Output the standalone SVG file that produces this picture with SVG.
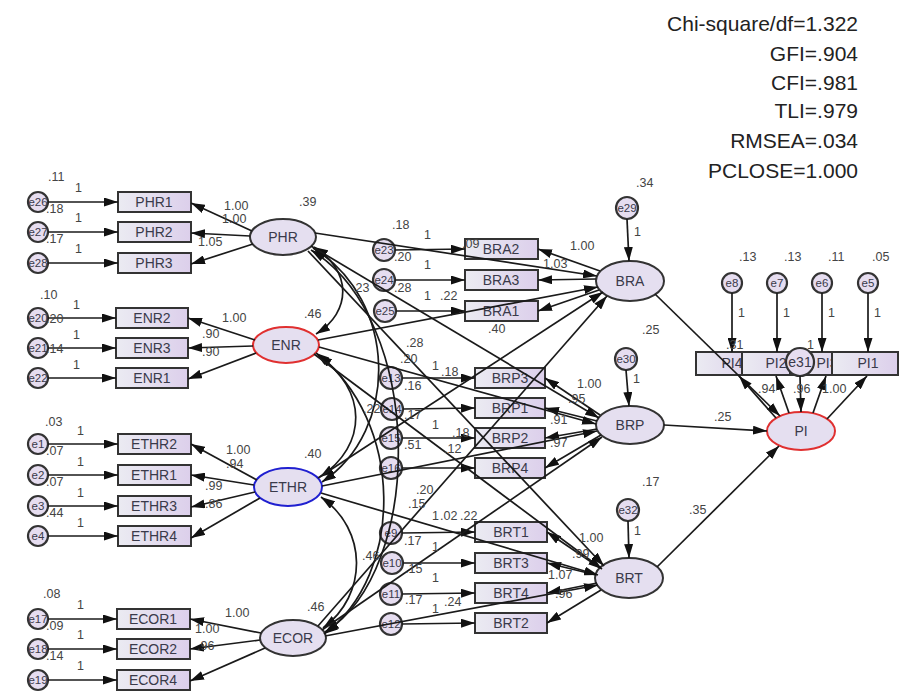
<svg xmlns="http://www.w3.org/2000/svg" width="901" height="692" viewBox="0 0 901 692">
<defs>
<linearGradient id="rg" x1="0" y1="0" x2="1" y2="0">
<stop offset="0" stop-color="#ebebf2"/><stop offset="1" stop-color="#dccfeb"/>
</linearGradient>
<marker id="ah" viewBox="0 0 14 9" refX="14" refY="4.5" markerWidth="14" markerHeight="9" orient="auto-start-reverse" markerUnits="userSpaceOnUse">
<path d="M0,0 L14,4.5 L0,9 z" fill="#111"/>
</marker>
</defs>
<style>
text{font-family:"Liberation Sans",Arial,sans-serif;}
.r{fill:url(#rg);stroke:#333;stroke-width:2;}
.lv{fill:#e5dff0;stroke:#333;stroke-width:2;}
.red{stroke:#e03030;}
.blue{stroke:#2020d0;}
.ec{fill:#e6ddf0;stroke:#333;stroke-width:2.2;}
.nt{font-size:14px;fill:#3a3a4a;text-anchor:middle;}
.et{font-size:11.5px;fill:#3a3a4a;text-anchor:middle;}
.v{font-size:12.5px;fill:#444;}
.fit{font-size:21px;fill:#222;text-anchor:end;}
.c line,.c path{stroke:#1a1a1a;stroke-width:1.7;fill:none;marker-end:url(#ah);}
.c .cov{marker-start:url(#ah);}
</style>
<rect width="901" height="692" fill="#ffffff"/>

<g id="fit">
<text class="fit" x="858" y="31">Chi-square/df=1.322</text>
<text class="fit" x="858" y="61">GFI=.904</text>
<text class="fit" x="858" y="90">CFI=.981</text>
<text class="fit" x="858" y="118">TLI=.979</text>
<text class="fit" x="858" y="148">RMSEA=.034</text>
<text class="fit" x="858" y="178">PCLOSE=1.000</text>
</g>

<!-- PHR block -->
<g id="e26"><circle class="ec" cx="38" cy="202" r="10"/><text class="et" x="38" y="206">e26</text></g>
<g id="e27"><circle class="ec" cx="38" cy="232" r="10"/><text class="et" x="38" y="236">e27</text></g>
<g id="e28"><circle class="ec" cx="38" cy="263" r="10"/><text class="et" x="38" y="267">e28</text></g>
<g id="PHR1"><rect class="r" x="118" y="192" width="73" height="20"/><text class="nt" x="154" y="207">PHR1</text></g>
<g id="PHR2"><rect class="r" x="118" y="222" width="73" height="20"/><text class="nt" x="154" y="237">PHR2</text></g>
<g id="PHR3"><rect class="r" x="118" y="253" width="73" height="20"/><text class="nt" x="154" y="268">PHR3</text></g>
<g id="PHR"><ellipse class="lv" cx="283" cy="237" rx="33" ry="18"/><text class="nt" x="283" y="242">PHR</text></g>

<!-- ENR block -->
<g id="e20"><circle class="ec" cx="38" cy="318" r="10"/><text class="et" x="38" y="322">e20</text></g>
<g id="e21"><circle class="ec" cx="38" cy="348" r="10"/><text class="et" x="38" y="352">e21</text></g>
<g id="e22"><circle class="ec" cx="38" cy="378" r="10"/><text class="et" x="38" y="382">e22</text></g>
<g id="ENR2"><rect class="r" x="116" y="308" width="72" height="20"/><text class="nt" x="152" y="323">ENR2</text></g>
<g id="ENR3"><rect class="r" x="116" y="338" width="72" height="20"/><text class="nt" x="152" y="353">ENR3</text></g>
<g id="ENR1"><rect class="r" x="116" y="368" width="72" height="20"/><text class="nt" x="152" y="383">ENR1</text></g>
<g id="ENR"><ellipse class="lv red" cx="286" cy="345" rx="33" ry="18"/><text class="nt" x="286" y="350">ENR</text></g>

<!-- ETHR block -->
<g id="e1"><circle class="ec" cx="38" cy="444" r="10"/><text class="et" x="38" y="448">e1</text></g>
<g id="e2"><circle class="ec" cx="38" cy="475" r="10"/><text class="et" x="38" y="479">e2</text></g>
<g id="e3"><circle class="ec" cx="38" cy="506" r="10"/><text class="et" x="38" y="510">e3</text></g>
<g id="e4"><circle class="ec" cx="38" cy="536" r="10"/><text class="et" x="38" y="540">e4</text></g>
<g id="ETHR2"><rect class="r" x="118" y="434" width="73" height="20"/><text class="nt" x="154" y="449">ETHR2</text></g>
<g id="ETHR1"><rect class="r" x="118" y="465" width="73" height="20"/><text class="nt" x="154" y="480">ETHR1</text></g>
<g id="ETHR3"><rect class="r" x="118" y="496" width="73" height="20"/><text class="nt" x="154" y="511">ETHR3</text></g>
<g id="ETHR4"><rect class="r" x="118" y="526" width="73" height="20"/><text class="nt" x="154" y="541">ETHR4</text></g>
<g id="ETHR"><ellipse class="lv blue" cx="288" cy="487" rx="34" ry="19"/><text class="nt" x="288" y="492">ETHR</text></g>

<!-- ECOR block -->
<g id="e17"><circle class="ec" cx="38" cy="619" r="10"/><text class="et" x="38" y="623">e17</text></g>
<g id="e18"><circle class="ec" cx="38" cy="649" r="10"/><text class="et" x="38" y="653">e18</text></g>
<g id="e19"><circle class="ec" cx="38" cy="680" r="10"/><text class="et" x="38" y="684">e19</text></g>
<g id="ECOR1"><rect class="r" x="117" y="609" width="73" height="20"/><text class="nt" x="153" y="624">ECOR1</text></g>
<g id="ECOR2"><rect class="r" x="117" y="639" width="73" height="20"/><text class="nt" x="153" y="654">ECOR2</text></g>
<g id="ECOR4"><rect class="r" x="117" y="670" width="73" height="20"/><text class="nt" x="153" y="685">ECOR4</text></g>
<g id="ECOR"><ellipse class="lv" cx="293" cy="638" rx="33" ry="18"/><text class="nt" x="293" y="643">ECOR</text></g>

<!-- BRA block -->
<g id="e23"><circle class="ec" cx="384" cy="250" r="11"/><text class="et" x="384" y="254">e23</text></g>
<g id="e24"><circle class="ec" cx="384" cy="280" r="11"/><text class="et" x="384" y="284">e24</text></g>
<g id="e25"><circle class="ec" cx="385" cy="311" r="11"/><text class="et" x="385" y="315">e25</text></g>
<g id="BRA2"><rect class="r" x="465" y="239" width="73" height="20"/><text class="nt" x="501" y="254">BRA2</text></g>
<g id="BRA3"><rect class="r" x="465" y="270" width="73" height="20"/><text class="nt" x="501" y="285">BRA3</text></g>
<g id="BRA1"><rect class="r" x="465" y="301" width="73" height="20"/><text class="nt" x="501" y="316">BRA1</text></g>
<g id="e29"><circle class="ec" cx="627" cy="208" r="11"/><text class="et" x="627" y="212">e29</text></g>
<g id="BRA"><ellipse class="lv" cx="630" cy="281" rx="34" ry="20"/><text class="nt" x="630" y="286">BRA</text></g>

<!-- BRP block -->
<g id="e13"><circle class="ec" cx="391" cy="378" r="11"/><text class="et" x="391" y="382">e13</text></g>
<g id="e14"><circle class="ec" cx="392" cy="409" r="11"/><text class="et" x="392" y="413">e14</text></g>
<g id="e15"><circle class="ec" cx="391" cy="438" r="11"/><text class="et" x="391" y="442">e15</text></g>
<g id="e16"><circle class="ec" cx="391" cy="468" r="11"/><text class="et" x="391" y="472">e16</text></g>
<g id="BRP3"><rect class="r" x="475" y="368" width="70" height="20"/><text class="nt" x="510" y="383">BRP3</text></g>
<g id="BRP1"><rect class="r" x="475" y="398" width="70" height="20"/><text class="nt" x="510" y="413">BRP1</text></g>
<g id="BRP2"><rect class="r" x="475" y="428" width="70" height="20"/><text class="nt" x="510" y="443">BRP2</text></g>
<g id="BRP4"><rect class="r" x="475" y="458" width="70" height="20"/><text class="nt" x="510" y="473">BRP4</text></g>
<g id="e30"><circle class="ec" cx="626" cy="359" r="11"/><text class="et" x="626" y="363">e30</text></g>
<g id="BRP"><ellipse class="lv" cx="630" cy="425" rx="34" ry="19"/><text class="nt" x="630" y="430">BRP</text></g>

<!-- BRT block -->
<g id="e9"><circle class="ec" cx="391" cy="533" r="11"/><text class="et" x="391" y="537">e9</text></g>
<g id="e10"><circle class="ec" cx="392" cy="563" r="11"/><text class="et" x="392" y="567">e10</text></g>
<g id="e11"><circle class="ec" cx="391" cy="594" r="11"/><text class="et" x="391" y="598">e11</text></g>
<g id="e12"><circle class="ec" cx="391" cy="624" r="11"/><text class="et" x="391" y="628">e12</text></g>
<g id="BRT1"><rect class="r" x="475" y="522" width="72" height="20"/><text class="nt" x="511" y="537">BRT1</text></g>
<g id="BRT3"><rect class="r" x="475" y="553" width="72" height="20"/><text class="nt" x="511" y="568">BRT3</text></g>
<g id="BRT4"><rect class="r" x="475" y="583" width="72" height="20"/><text class="nt" x="511" y="598">BRT4</text></g>
<g id="BRT2"><rect class="r" x="475" y="613" width="72" height="20"/><text class="nt" x="511" y="628">BRT2</text></g>
<g id="e32"><circle class="ec" cx="628" cy="510" r="11"/><text class="et" x="628" y="514">e32</text></g>
<g id="BRT"><ellipse class="lv" cx="629" cy="578" rx="34" ry="20"/><text class="nt" x="629" y="583">BRT</text></g>

<!-- PI block -->
<g id="e8"><circle class="ec" cx="732" cy="283" r="10"/><text class="et" x="732" y="287">e8</text></g>
<g id="e7"><circle class="ec" cx="777" cy="283" r="10"/><text class="et" x="777" y="287">e7</text></g>
<g id="e6"><circle class="ec" cx="822" cy="283" r="10"/><text class="et" x="822" y="287">e6</text></g>
<g id="e5"><circle class="ec" cx="868" cy="283" r="10"/><text class="et" x="868" y="287">e5</text></g>
<g id="PI4"><rect class="r" x="696" y="352" width="64" height="23"/><text class="nt" x="732" y="368">PI4</text></g>
<g id="PI2"><rect class="r" x="742" y="352" width="64" height="23"/><text class="nt" x="776" y="368">PI2</text></g>
<g id="PI3"><rect class="r" x="790" y="352" width="64" height="23"/><text class="nt" x="827" y="368">PI3</text></g>
<g id="PI1"><rect class="r" x="832" y="352" width="66" height="23"/><text class="nt" x="868" y="368">PI1</text></g>
<g id="e31"><circle class="ec" cx="800" cy="362" r="14"/><text class="nt" x="800" y="367">e31</text></g>
<g id="PI"><ellipse class="lv red" cx="801" cy="431" rx="34" ry="19"/><text class="nt" x="801" y="436">PI</text></g>

<g id="connectors" class="c">
<!-- left error arrows -->
<line x1="48" y1="202" x2="118" y2="202"/>
<line x1="48" y1="232" x2="118" y2="232"/>
<line x1="48" y1="263" x2="118" y2="263"/>
<line x1="48" y1="318" x2="116" y2="318"/>
<line x1="48" y1="348" x2="116" y2="348"/>
<line x1="48" y1="378" x2="116" y2="378"/>
<line x1="48" y1="444" x2="118" y2="444"/>
<line x1="48" y1="475" x2="118" y2="475"/>
<line x1="48" y1="506" x2="118" y2="506"/>
<line x1="48" y1="536" x2="118" y2="536"/>
<line x1="48" y1="619" x2="117" y2="619"/>
<line x1="48" y1="649" x2="117" y2="649"/>
<line x1="48" y1="680" x2="117" y2="680"/>
<!-- left loadings -->
<line x1="252" y1="231" x2="191" y2="203"/>
<line x1="250" y1="236" x2="191" y2="233"/>
<line x1="253" y1="244" x2="191" y2="264"/>
<line x1="255" y1="340" x2="188" y2="318"/>
<line x1="253" y1="346" x2="188" y2="348"/>
<line x1="256" y1="353" x2="188" y2="379"/>
<line x1="257" y1="480" x2="191" y2="444"/>
<line x1="254" y1="485" x2="191" y2="475"/>
<line x1="255" y1="492" x2="191" y2="507"/>
<line x1="260" y1="498" x2="191" y2="538"/>
<line x1="261" y1="633" x2="190" y2="619"/>
<line x1="260" y1="640" x2="190" y2="649"/>
<line x1="265" y1="648" x2="190" y2="681"/>
<!-- covariances -->
<path class="cov" d="M314,247 C352,270 352,312 316,334"/>
<path class="cov" d="M318,355 C368,390 368,445 320,477"/>
<path class="cov" d="M321,497 C368,530 368,595 323,628"/>
<path class="cov" d="M313,248 C398,300 400,430 322,482"/>
<path class="cov" d="M311,250 C425,320 425,570 325,632"/>
<path class="cov" d="M316,353 C405,420 405,575 324,634"/>
<!-- middle error arrows -->
<line x1="395" y1="250" x2="465" y2="249"/>
<line x1="395" y1="280" x2="465" y2="280"/>
<line x1="396" y1="311" x2="465" y2="311"/>
<line x1="402" y1="378" x2="475" y2="378"/>
<line x1="403" y1="409" x2="475" y2="408"/>
<line x1="402" y1="438" x2="475" y2="438"/>
<line x1="402" y1="468" x2="475" y2="468"/>
<line x1="402" y1="533" x2="475" y2="532"/>
<line x1="403" y1="563" x2="475" y2="563"/>
<line x1="402" y1="594" x2="475" y2="593"/>
<line x1="402" y1="624" x2="475" y2="623"/>
<!-- endogenous loadings -->
<line x1="600" y1="271" x2="538" y2="249"/>
<line x1="596" y1="279" x2="538" y2="280"/>
<line x1="599" y1="290" x2="538" y2="311"/>
<line x1="600" y1="415" x2="545" y2="378"/>
<line x1="597" y1="421" x2="545" y2="408"/>
<line x1="597" y1="429" x2="545" y2="438"/>
<line x1="601" y1="435" x2="545" y2="468"/>
<line x1="600" y1="568" x2="547" y2="532"/>
<line x1="596" y1="575" x2="547" y2="563"/>
<line x1="597" y1="583" x2="547" y2="593"/>
<line x1="601" y1="590" x2="547" y2="623"/>
<!-- structural disturbances -->
<line x1="627" y1="219" x2="629" y2="261"/>
<line x1="626" y1="370" x2="629" y2="406"/>
<line x1="628" y1="521" x2="629" y2="558"/>
<!-- structural paths -->
<line x1="315" y1="233" x2="597" y2="276"/>
<line x1="311" y1="246" x2="599" y2="418"/>
<line x1="308" y1="251" x2="604" y2="566"/>
<line x1="318" y1="340" x2="598" y2="287"/>
<line x1="319" y1="347" x2="596" y2="424"/>
<line x1="314" y1="354" x2="602" y2="569"/>
<line x1="318" y1="478" x2="603" y2="292"/>
<line x1="322" y1="486" x2="597" y2="431"/>
<line x1="321" y1="493" x2="598" y2="575"/>
<line x1="318" y1="626" x2="607" y2="296"/>
<line x1="322" y1="630" x2="602" y2="437"/>
<line x1="325" y1="636" x2="598" y2="585"/>
<line x1="655" y1="294" x2="780" y2="416"/>
<line x1="664" y1="425" x2="767" y2="431"/>
<line x1="657" y1="567" x2="779" y2="446"/>
<!-- PI -->
<line x1="732" y1="293" x2="732" y2="352"/>
<line x1="777" y1="293" x2="777" y2="352"/>
<line x1="822" y1="293" x2="822" y2="352"/>
<line x1="868" y1="293" x2="868" y2="352"/>
<line x1="776" y1="418" x2="739" y2="376"/>
<line x1="789" y1="413" x2="776" y2="376"/>
<line x1="813" y1="413" x2="826" y2="376"/>
<line x1="827" y1="419" x2="867" y2="376"/>
<line x1="800" y1="376" x2="801" y2="412"/>
</g>

<g id="values">
<text class="v" x="48" y="181">.11</text><text class="v" x="75" y="192">1</text><text class="v" x="46" y="213">.18</text>
<text class="v" x="75" y="222">1</text><text class="v" x="46" y="243">.17</text><text class="v" x="75" y="253">1</text>
<text class="v" x="224" y="210">1.00</text><text class="v" x="222" y="223">1.00</text><text class="v" x="198" y="246">1.05</text>
<text class="v" x="299" y="206">.39</text>
<text class="v" x="40" y="299">.10</text><text class="v" x="73" y="309">1</text><text class="v" x="46" y="323">.20</text>
<text class="v" x="73" y="339">1</text><text class="v" x="46" y="353">.14</text><text class="v" x="73" y="369">1</text>
<text class="v" x="222" y="322">1.00</text><text class="v" x="202" y="338">.90</text><text class="v" x="202" y="356">.90</text>
<text class="v" x="304" y="318">.46</text>
<text class="v" x="45" y="426">.03</text><text class="v" x="77" y="435">1</text><text class="v" x="46" y="455">.07</text>
<text class="v" x="77" y="466">1</text><text class="v" x="46" y="486">.07</text><text class="v" x="77" y="497">1</text>
<text class="v" x="46" y="517">.44</text><text class="v" x="77" y="527">1</text>
<text class="v" x="226" y="454">1.00</text><text class="v" x="226" y="468">.94</text><text class="v" x="205" y="490">.99</text><text class="v" x="205" y="508">.86</text>
<text class="v" x="304" y="458">.40</text>
<text class="v" x="43" y="598">.08</text><text class="v" x="77" y="609">1</text><text class="v" x="46" y="630">.09</text>
<text class="v" x="77" y="639">1</text><text class="v" x="46" y="660">.14</text><text class="v" x="77" y="670">1</text>
<text class="v" x="225" y="617">1.00</text><text class="v" x="195" y="633">1.00</text><text class="v" x="197" y="650">.96</text>
<text class="v" x="307" y="611">.46</text>
<text class="v" x="392" y="229">.18</text><text class="v" x="424" y="239">1</text><text class="v" x="394" y="261">.20</text>
<text class="v" x="424" y="269">1</text><text class="v" x="394" y="292">.28</text>
<text class="v" x="424" y="300">1</text><text class="v" x="440" y="300">.22</text>
<text class="v" x="352" y="292">.23</text><text class="v" x="488" y="333">.40</text>
<text class="v" x="462" y="248">.09</text>
<text class="v" x="570" y="250">1.00</text><text class="v" x="543" y="268">1.03</text>
<text class="v" x="636" y="187">.34</text><text class="v" x="634" y="236">1</text>
<text class="v" x="406" y="347">.28</text><text class="v" x="400" y="363">.20</text>
<text class="v" x="432" y="370">1</text><text class="v" x="441" y="376">.18</text>
<text class="v" x="404" y="390">.16</text>
<text class="v" x="363" y="413">.22</text><text class="v" x="404" y="419">.17</text>
<text class="v" x="432" y="429">1</text><text class="v" x="452" y="437">.18</text>
<text class="v" x="404" y="449">.51</text><text class="v" x="444" y="453">.12</text>
<text class="v" x="577" y="388">1.00</text><text class="v" x="568" y="403">.95</text>
<text class="v" x="550" y="424">.91</text><text class="v" x="550" y="447">.97</text>
<text class="v" x="642" y="334">.25</text><text class="v" x="633" y="383">1</text>
<text class="v" x="416" y="494">.20</text><text class="v" x="408" y="508">.15</text>
<text class="v" x="432" y="520">1</text><text class="v" x="440" y="520">.02</text><text class="v" x="460" y="520">.22</text>
<text class="v" x="404" y="545">.17</text>
<text class="v" x="432" y="551">1</text><text class="v" x="362" y="560">.46</text><text class="v" x="405" y="573">.15</text>
<text class="v" x="432" y="582">1</text><text class="v" x="405" y="604">.17</text><text class="v" x="444" y="606">.24</text>
<text class="v" x="432" y="613">1</text>
<text class="v" x="579" y="542">1.00</text><text class="v" x="572" y="558">.99</text>
<text class="v" x="548" y="579">1.07</text><text class="v" x="555" y="598">.96</text>
<text class="v" x="642" y="486">.17</text><text class="v" x="634" y="535">1</text>
<text class="v" x="739" y="261">.13</text><text class="v" x="784" y="261">.13</text><text class="v" x="828" y="261">.11</text><text class="v" x="872" y="261">.05</text>
<text class="v" x="738" y="317">1</text><text class="v" x="783" y="317">1</text><text class="v" x="828" y="317">1</text><text class="v" x="874" y="317">1</text>
<text class="v" x="726" y="349">.31</text><text class="v" x="807" y="349">1</text>
<text class="v" x="758" y="393">.94</text><text class="v" x="793" y="393">.96</text><text class="v" x="822" y="393">1.00</text>
<text class="v" x="714" y="421">.25</text><text class="v" x="689" y="514">.35</text>
</g>
</svg>
